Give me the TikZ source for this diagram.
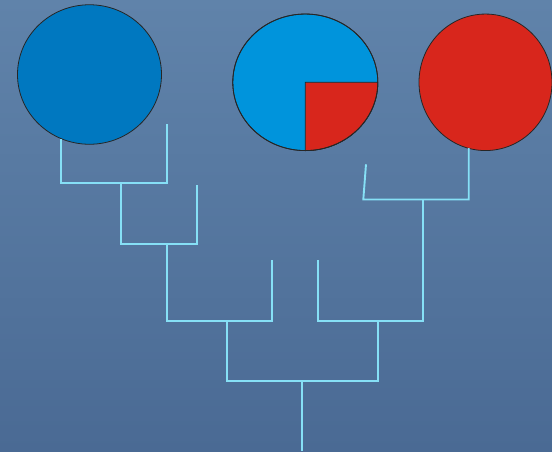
\documentclass[tikz,border=0pt]{standalone}
\usetikzlibrary{shapes.geometric}
\definecolor{bgtop}{HTML}{6083AA}
\definecolor{bgbot}{HTML}{4A6A94}
\definecolor{dblue}{HTML}{0078C0}
\definecolor{lblue}{HTML}{0094DC}
\definecolor{pred}{HTML}{D8261C}
\definecolor{tline}{HTML}{86E0F6}
\begin{document}
\begin{tikzpicture}[x=1pt,y=-1pt,
  disc/.style={ellipse,draw=black!85,line width=0.8pt,inner sep=0pt},
  tree/.style={draw=tline,line width=1.9pt,line cap=butt,line join=miter}]
\shade[top color=bgtop,bottom color=bgbot] (0,0) rectangle (552,451);
\useasboundingbox (0,0) rectangle (552,451);
% discs
\node[disc,fill=dblue,minimum width=144pt,minimum height=139.5pt] (c1) at (89.5,74.5) {};
\node[disc,fill=lblue,minimum width=145pt,minimum height=136.5pt] (c2) at (305.3,82.3) {};
\fill[pred] (c2.center) -- (377.8,82.3) arc[start angle=0,end angle=90,x radius=72.5,y radius=68.3] -- cycle;
\draw[black!85,line width=0.8pt] (c2.center) -- (377.8,82.3) arc[start angle=0,end angle=90,x radius=72.5,y radius=68.3] -- cycle;
\draw[black!85,line width=0.8pt] (c2) ellipse[x radius=72.5,y radius=68.3];
\node[disc,fill=pred,minimum width=133pt,minimum height=136.5pt] (c3) at (485.5,82.3) {};
% tree coordinates
\coordinate (a1) at (60.7,139);
\coordinate (a2) at (166.7,124);
\coordinate (j1) at (121,183.3);
\coordinate (b2) at (196.7,185);
\coordinate (j2) at (166.7,244.3);
\coordinate (d2) at (272.3,260.3);
\coordinate (j3) at (227,320.7);
\coordinate (r1) at (366,164.3);
\coordinate (r2) at (468.7,148);
\coordinate (k1) at (423.3,199.5);
\coordinate (e1) at (317.7,260.3);
\coordinate (k2) at (378,320.7);
\coordinate (root) at (302.3,380.7);
\coordinate (bottom) at (302.3,451);
% left branches
\draw[tree] (a1) |- (j1) -| (a2);
\draw[tree] (j1) |- (j2) -| (b2);
\draw[tree] (j2) |- (j3) -| (d2);
\draw[tree] (j3) |- (root) -| (k2);
% right branches
\draw[tree] (r1) -- (363.3,199.5) -- (k1) -| (r2);
\draw[tree] (k1) |- (k2) -| (e1);
\draw[tree] (root) -- (bottom);
\end{tikzpicture}
\end{document}
